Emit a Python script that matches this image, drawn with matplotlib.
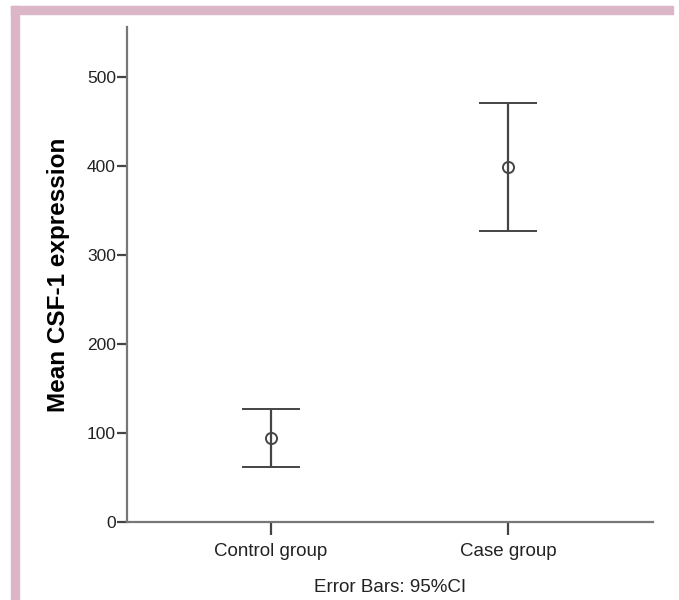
import numpy as np
import matplotlib
matplotlib.use("Agg")
import matplotlib.pyplot as plt
from matplotlib.patches import Rectangle

plt.rcParams['font.family'] = ['Liberation Sans', 'DejaVu Sans']

groups = ['Control group', 'Case group']
means = [94, 398.5]
ci_low = [61.5, 327.3]
ci_high = [126.6, 470.4]

fig = plt.figure(figsize=(6.79, 6.0), dpi=100)

# pink frame strips (top and left)
fig.patches.append(Rectangle((11/679, 1 - 14/600), (673 - 11)/679, 8/600,
                             transform=fig.transFigure, color='#dbb6c6', zorder=0))
fig.patches.append(Rectangle((11/679, 0), 8/679, 1 - 6/600,
                             transform=fig.transFigure, color='#dbb6c6', zorder=0))

ax = fig.add_axes([127/679, 1 - 522/600, (653 - 127)/679, (522 - 27)/600])

x = np.arange(len(groups))
means = np.array(means)
yerr = np.array([means - np.array(ci_low), np.array(ci_high) - means])
ax.errorbar(x, means, yerr=yerr, fmt='o', mfc='none', mec='#444444', mew=1.4,
            ms=8, ecolor='#444444', elinewidth=1.6, capsize=21, capthick=1.6)

ax.set_xlim(-0.608, 1.612)
ax.set_ylim(0, 556)
ax.set_yticks([0, 100, 200, 300, 400, 500])
ax.set_xticks(x)
ax.set_xticklabels(groups)

for s in ['top', 'right']:
    ax.spines[s].set_visible(False)
for s in ['left', 'bottom']:
    ax.spines[s].set_color('#777777')
    ax.spines[s].set_linewidth(1.6)

ax.tick_params(axis='y', length=7, width=1.6, color='#444444', labelsize=12.5,
               labelcolor='#222222', pad=1)
ax.tick_params(axis='x', length=9, width=1.6, color='#444444', labelsize=13.5,
               labelcolor='#222222', pad=6)

ax.set_ylabel('Mean CSF-1 expression', fontsize=17.5, fontweight='bold', labelpad=12)
ax.set_xlabel('Error Bars: 95%CI', fontsize=13.5, color='#222222', labelpad=14)

fig.savefig('out.png', dpi=100)
